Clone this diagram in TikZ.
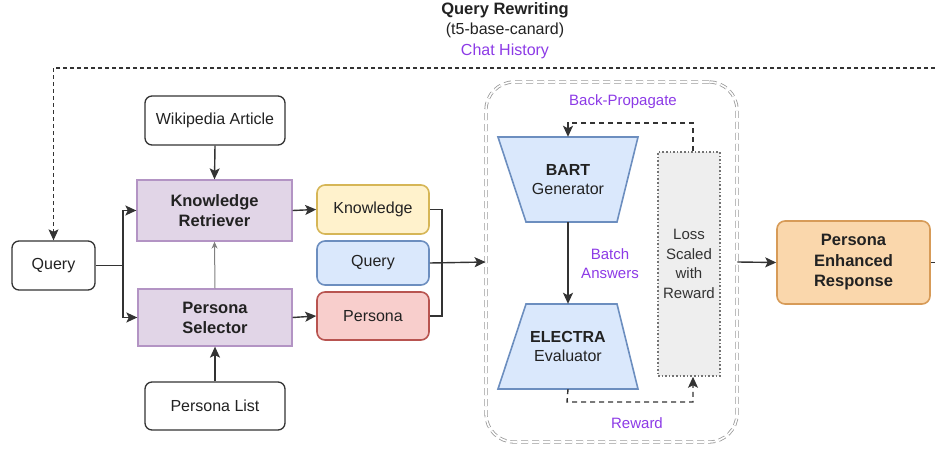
\documentclass[tikz,border=0pt]{standalone}
\usepackage{fontspec}
\setmainfont{Liberation Sans}
\usetikzlibrary{arrows.meta,shapes.geometric,calc}
\definecolor{txt}{HTML}{222222}
\definecolor{edge}{HTML}{333333}
\definecolor{purp}{HTML}{8C3AE6}
\definecolor{kfill}{HTML}{E1D5E7}\definecolor{kdraw}{HTML}{B394C4}
\definecolor{yfill}{HTML}{FFF2CC}\definecolor{ydraw}{HTML}{D6B656}
\definecolor{bfill}{HTML}{DAE8FC}\definecolor{bdraw}{HTML}{6C8EBF}
\definecolor{rfill}{HTML}{F8CECC}\definecolor{rdraw}{HTML}{B85450}
\definecolor{ofill}{HTML}{FAD7AC}\definecolor{odraw}{HTML}{D79B58}
\definecolor{lfill}{HTML}{EEEEEE}
\begin{document}
\begin{tikzpicture}[x=1pt,y=-1pt,
  font=\fontsize{16}{19}\selectfont, text=txt,
  every node/.style={align=center, inner sep=0pt},
  wbox/.style={draw=edge, line width=1.3pt, rounded corners=7pt, fill=white},
  pbox/.style={draw=kdraw, line width=1.3pt, fill=kfill, font=\fontsize{16.5}{20}\selectfont\bfseries},
  cbox/.style={line width=1.6pt, rounded corners=8pt},
  lab/.style={text=purp, font=\fontsize{15}{19}\selectfont},
  conn/.style={draw=edge, line width=1.4pt},
  arr/.style={conn, -{Stealth[length=11pt,width=10pt,inset=2.5pt]}},
  darr/.style={arr, dashed, dash pattern=on 5pt off 4pt}
]
\useasboundingbox (0,0) rectangle (935,449);

% titles
\node[font=\fontsize{16.5}{19}\selectfont\bfseries] (qrw) at (505,10) {Query Rewriting};
\node (t5) at (505,30) {(t5-base-canard)};
\node[lab, font=\fontsize{16}{19}\selectfont] (ch) at (505,51) {Chat History};

% left nodes
\node[wbox, minimum width=83pt, minimum height=49pt] (qry) at (53.5,265.5) {Query};
\node[wbox, minimum width=140pt, minimum height=49pt] (wiki) at (215,120.5) {Wikipedia Article};
\node[pbox, minimum width=155pt, minimum height=61pt] (kr) at (214.5,210.5) {Knowledge\\Retriever};
\node[pbox, minimum width=154pt, minimum height=57pt] (ps) at (215,317.5) {Persona\\Selector};
\node[wbox, minimum width=140pt, minimum height=48pt] (pl) at (215,406) {Persona List};

\node[cbox, draw=ydraw, fill=yfill, minimum width=112pt, minimum height=49pt] (kn) at (373,209.5) {Knowledge};
\node[cbox, draw=bdraw, fill=bfill, minimum width=112pt, minimum height=44pt] (q2) at (373,263) {Query};
\node[cbox, draw=rdraw, fill=rfill, minimum width=112pt, minimum height=48pt] (pe) at (373,316) {Persona};

% container
\node[draw=gray!80, double=white, double distance=1.6pt, line width=0.8pt, dashed, dash pattern=on 7pt off 4pt,
      rounded corners=28pt, minimum width=251pt, minimum height=360pt] (cont) at (611.5,262) {};

% BART / ELECTRA trapezoids
\draw[draw=bdraw, fill=bfill, line width=1.6pt] (498,137) -- (638,137) -- (617,222) -- (526,222) -- cycle;
\node[minimum width=140pt, minimum height=85pt] (bart) at (568,179.5) {\textbf{BART}\\Generator};
\draw[draw=bdraw, fill=bfill, line width=1.6pt] (526,304) -- (617,304) -- (638,389) -- (498,389) -- cycle;
\node[minimum width=140pt, minimum height=85pt] (elec) at (568,346.5) {\textbf{ELECTRA}\\Evaluator};

\node[lab] (ba) at (610,264) {Batch\\Answers};

% loss
\node[draw=gray!90!black, fill=lfill, line width=1.6pt, dotted, minimum width=62pt, minimum height=224pt,
      text=edge, font=\fontsize{15}{19.7}\selectfont] (loss) at (689,264) {Loss\\Scaled\\with\\Reward};

\node[lab] (bpl) at (623,102) {Back-Propagate};
\node[lab] (rwl) at (637,423) {Reward};

% response
\node[cbox, draw=odraw, fill=ofill, minimum width=153pt, minimum height=83pt,
      font=\fontsize{16.5}{20.5}\selectfont\bfseries] (resp) at (853.5,262.5) {Persona\\Enhanced\\Response};

% coordinates
\coordinate (tr) at (935,68);
\coordinate (sp) at (123,265.5);
\coordinate (mj) at (442,263);
\coordinate (bpc) at (693,123);
\coordinate (rwc) at (567,402);
\coordinate (re) at (935,262.5);

% connectors
\draw[arr, dashed, dash pattern=on 4pt off 3pt, line width=1.1pt] (tr) -| (qry.north);
\draw[conn] (qry.east) -- (sp);
\draw[arr] (sp) |- (kr.west);
\draw[arr] (sp) |- (ps.west);
\draw[arr] (wiki.south) -- (kr.north);
\draw[arr, draw=gray, line width=1pt, -{Stealth[length=7pt,width=6pt]}] (ps.north) -- (kr.south);
\draw[arr] (pl.north) -- (ps.south);
\draw[arr] (kr.east) -- (kn.west);
\draw[arr] (ps.east) -- (pe.west);
\draw[conn] (kn.east) -| (mj);
\draw[conn] (pe.east) -| (mj);
\draw[arr] (q2.east) -- (cont.west);
\draw[arr] (bart.south) -- (elec.north);
\draw[darr] (loss.north -| bpc) -- (bpc) -| (bart.north);
\draw[darr] (elec.south) -- (rwc) -| (loss.south -| bpc);
\draw[arr] (cont.east) -- (resp.west);
\draw[conn] (resp.east) -- (re);
\end{tikzpicture}
\end{document}
